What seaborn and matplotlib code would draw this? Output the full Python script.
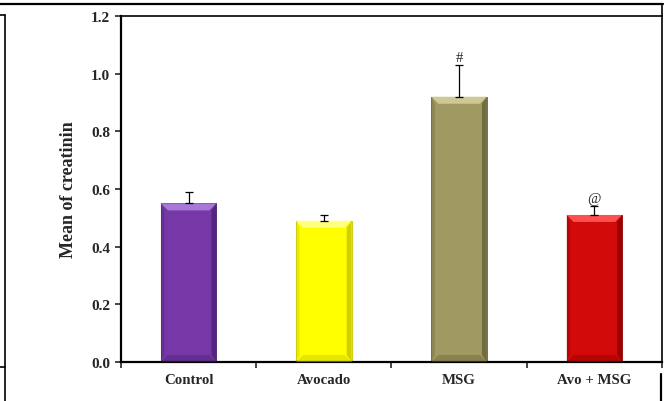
import numpy as np
import pandas as pd
import matplotlib
matplotlib.use("Agg")
import matplotlib.pyplot as plt
from matplotlib.patches import Polygon
from matplotlib.lines import Line2D
import seaborn as sns

# Data
groups = ["Control", "Avocado", "MSG", "Avo + MSG"]
mean_creatinin = [0.55, 0.49, 0.92, 0.51]
sem_creatinin = [0.04, 0.02, 0.11, 0.03]
marks = ["", "", "#", "@"]

# Bar face colours and bevel shades (light top, dark side/bottom)
face_colors = ["#7538A6", "#FFFF00", "#A19962", "#D20A0A"]
light_colors = ["#A878D8", "#FFFF80", "#CFC894", "#FF5050"]
dark_colors = ["#4E2278", "#C8C800", "#6A653C", "#900000"]

sns.set_theme(style="white")
plt.rcParams["font.family"] = ["Liberation Serif", "DejaVu Serif"]
plt.rcParams["font.weight"] = "bold"

fig = plt.figure(figsize=(6.66, 4.02), dpi=100)
ax = fig.add_axes([121 / 666, 1 - 363 / 402, (662 - 121) / 666, (363 - 17) / 402])

df = pd.DataFrame({"group": groups, "mean": mean_creatinin})
sns.barplot(data=df, x="group", y="mean", hue="group", palette=face_colors,
            width=0.41, legend=False, ax=ax, saturation=1, edgecolor="none")

# Upper-only error bars
ax.errorbar(np.arange(len(groups)), mean_creatinin,
            yerr=[np.zeros(len(groups)), sem_creatinin],
            fmt="none", ecolor="black", elinewidth=0.9, capsize=2.6, capthick=0.9,
            zorder=5)

ax.set_xlim(-0.5, len(groups) - 0.5)
ax.set_ylim(0, 1.2)
ax.set_yticks(np.arange(0, 1.21, 0.2))
ax.set_yticklabels([f"{v:.1f}" for v in np.arange(0, 1.21, 0.2)])

# Bevel effect drawn on each bar
fig.canvas.draw()
px_x = (ax.get_xlim()[1] - ax.get_xlim()[0]) / ax.bbox.width
px_y = (ax.get_ylim()[1] - ax.get_ylim()[0]) / ax.bbox.height
bev = 7
for patch, lc, dc, fc in zip(ax.patches, light_colors, dark_colors, face_colors):
    x0, y0 = patch.get_x(), patch.get_y()
    w, h = patch.get_width(), patch.get_height()
    x1, y1 = x0 + w, y0 + h
    dx, dy = bev * px_x, bev * px_y
    top = Polygon([(x0, y1), (x1, y1), (x1 - dx, y1 - dy), (x0 + dx, y1 - dy)],
                  closed=True, facecolor=lc, edgecolor="none", zorder=3)
    right = Polygon([(x1, y1), (x1, y0), (x1 - dx * 0.7, y0 + dy), (x1 - dx * 0.7, y1 - dy)],
                    closed=True, facecolor=dc, alpha=0.85, edgecolor="none", zorder=3)
    left = Polygon([(x0, y1), (x0, y0), (x0 + dx * 0.5, y0 + dy), (x0 + dx * 0.5, y1 - dy)],
                   closed=True, facecolor=dc, alpha=0.35, edgecolor="none", zorder=3)
    bottom = Polygon([(x0, y0), (x1, y0), (x1 - dx, y0 + dy), (x0 + dx, y0 + dy)],
                     closed=True, facecolor=dc, alpha=0.45, edgecolor="none", zorder=3)
    for p in (top, right, left, bottom):
        ax.add_patch(p)
    patch.set_zorder(2)
    patch.set_edgecolor(dc)
    patch.set_linewidth(0.6)

# Significance marks above error bars
for i, (m, s, t) in enumerate(zip(mean_creatinin, sem_creatinin, marks)):
    if t:
        ax.annotate(t, (i, m + s), xytext=(0, 1.0), textcoords="offset points",
                    ha="center", va="bottom", fontsize=10.5, fontweight="normal")

ax.set_xlabel("")
ax.set_ylabel("Mean of creatinin", fontsize=13, fontweight="bold", labelpad=10)

for side in ("left", "bottom", "top", "right"):
    ax.spines[side].set_visible(True)
    ax.spines[side].set_color("black")
ax.spines["left"].set_linewidth(1.6)
ax.spines["bottom"].set_linewidth(1.6)
ax.spines["top"].set_linewidth(1.2)
ax.spines["right"].set_linewidth(1.2)

# Y ticks outward on the left, x ticks at group boundaries
ax.tick_params(axis="y", which="major", direction="out", length=4, width=1.2,
               left=True, labelsize=11, pad=4)
ax.set_xticks(np.arange(len(groups)))
ax.set_xticklabels(groups)
ax.set_xticks(np.arange(-0.5, len(groups), 1.0), minor=True)
ax.tick_params(axis="x", which="major", length=0, labelsize=10.7, pad=8)
ax.tick_params(axis="x", which="minor", direction="out", length=4, width=1.2, bottom=True)
for lab in ax.get_xticklabels() + ax.get_yticklabels():
    lab.set_fontweight("bold")

# Surrounding frame lines
W, H = 666, 402
def fline(xs, ys, lw=1.6):
    fig.add_artist(Line2D([x / W for x in xs], [1 - y / H for y in ys],
                          color="black", linewidth=lw, transform=fig.transFigure))

fline([0, 663], [5, 5])
fline([662, 662], [5, 17], 1.2)
fline([0, 5], [16, 16], 1.2)
fline([4.5, 4.5], [16, 402], 1.2)
fline([0, 4.5], [368, 368], 1.2)
fline([661, 661], [375, 402], 1.6)

fig.savefig("out.png", dpi=100)
